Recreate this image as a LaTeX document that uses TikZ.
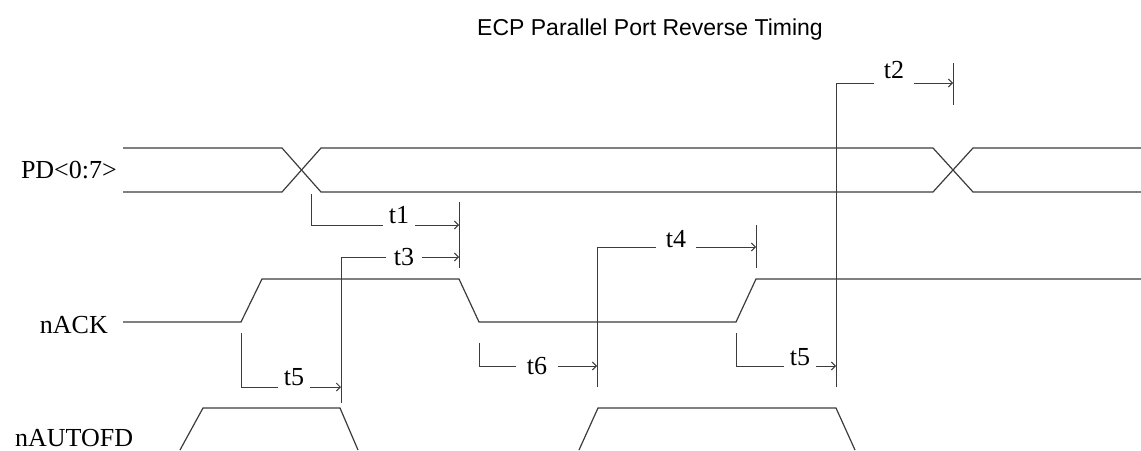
\documentclass[tikz,border=0pt]{standalone}
\usepackage{fontspec}
\setmainfont{Liberation Serif}
\setsansfont{Liberation Sans}
\usepackage{tikz}
\usetikzlibrary{arrows.meta}
\definecolor{wire}{HTML}{3C3C3C}
\tikzset{
  sig/.style={draw=wire,line width=1.2pt,line join=miter},
  dim/.style={draw=wire,line width=1pt},
  dima/.style={dim,-{Straight Barb[length=4pt,width=8pt]}},
  tickmark/.style={draw=wire,line width=1pt},
  sname/.style={font=\fontsize{26}{28}\selectfont,inner sep=0pt},
  tlab/.style={font=\fontsize{26}{28}\selectfont,fill=white,anchor=base,
    inner xsep=6pt,inner ysep=6pt},
  figtitle/.style={font=\sffamily\fontsize{23}{26}\selectfont,inner sep=0pt},
}

\begin{document}
\begin{tikzpicture}[x=1pt,y=-1pt]
  \useasboundingbox (0,0) rectangle (1141,450);
  \node[figtitle,anchor=base] (ttl) at (650,35){ECP Parallel Port Reverse Timing};
  % signal names
  \node[sname,anchor=base east] (pd)  at (117,178){PD<0:7>};
  \node[sname,anchor=base east] (ack) at (108,333){nACK};
  \node[sname,anchor=base west] (afd) at (15,446){nAUTOFD};
  % waveforms
  \draw[sig] (123,148) -- (282,148) -- (321,192) -- (933,192) -- (973,148) -- (1141,148);
  \draw[sig] (123,192) -- (282,192) -- (321,148) -- (933,148) -- (973,192) -- (1141,192);
  \draw[sig] (123,322) -- (241,322) -- (262,279) -- (459,279) -- (479,322)
             -- (736,322) -- (756,279) -- (1141,279);
  \draw[sig] (180,450) -- (203,408) -- (340,408) -- (358,450);
  \draw[sig] (579,450) -- (598,408) -- (836,408) -- (855,450);
  % timing brackets
  \coordinate (t1s) at (311,194);  \coordinate (t1e) at (459,225);
  \coordinate (t3s) at (341,403);  \coordinate (t3e) at (459,257);
  \coordinate (t5as) at (241,333); \coordinate (t5ae) at (341,387);
  \coordinate (t6s) at (479,343);  \coordinate (t6e) at (597,366);
  \coordinate (t4s) at (597,387);  \coordinate (t4e) at (756,247);
  \coordinate (t5bs) at (736,333); \coordinate (t5be) at (836,366);
  \coordinate (t2s) at (836,387);  \coordinate (t2e) at (953,83);
  \foreach \d in {t1,t3,t5a,t6,t4,t5b,t2} \draw[dima] (\d s) |- (\d e);
  \draw[tickmark] (459,202) -- (459,268);
  \draw[tickmark] (756,225) -- (756,268);
  \draw[tickmark] (953,63) -- (953,105);
  % labels
  \node[tlab] (t1)  at (399,223){t1};
  \node[tlab,inner xsep=8pt] (t3)  at (404,265){t3};
  \node[tlab] (t5a) at (294,385){t5};
  \node[tlab,inner xsep=11pt] (t6)  at (537,374){t6};
  \node[tlab,inner xsep=10pt] (t4)  at (676,247){t4};
  \node[tlab] (t5b) at (800,365){t5};
  \node[tlab,inner xsep=10pt] (t2)  at (894,78){t2};
\end{tikzpicture}
\end{document}
